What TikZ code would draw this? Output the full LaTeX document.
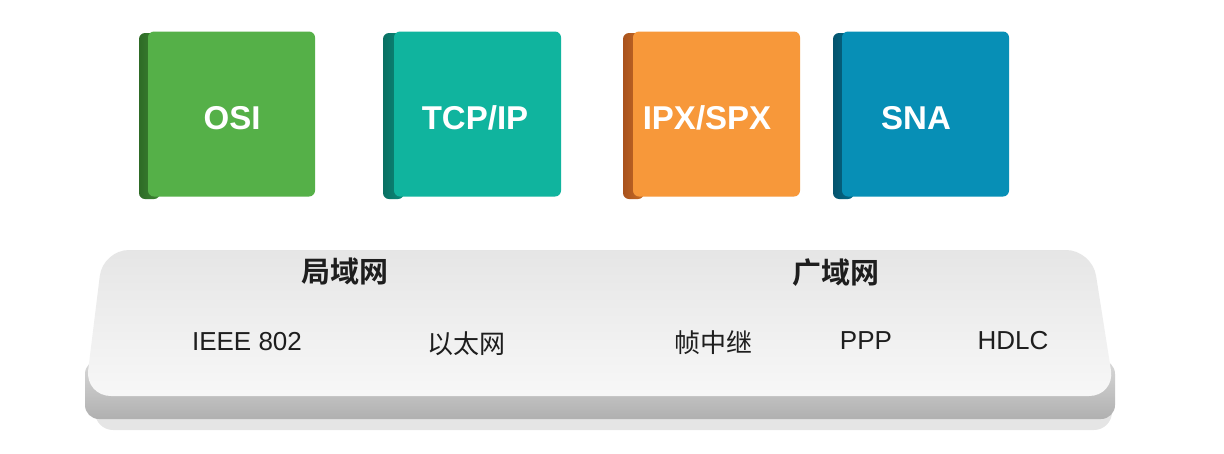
\documentclass[tikz,border=0pt]{standalone}
\usepackage{fontspec}
\setmainfont{Liberation Sans}
\newfontfamily\cjk[BoldFont={Noto Sans CJK SC Bold}]{Noto Sans CJK SC}
\definecolor{osiF}{HTML}{55B048}
\definecolor{osiS}{HTML}{2E6B26}
\definecolor{tcpF}{HTML}{10B49E}
\definecolor{tcpS}{HTML}{097063}
\definecolor{ipxF}{HTML}{F7983A}
\definecolor{ipxS}{HTML}{A9521C}
\definecolor{snaF}{HTML}{078FB6}
\definecolor{snaS}{HTML}{04546E}
\definecolor{txt}{HTML}{1E1E1E}
\begin{document}
\begin{tikzpicture}[x=1pt,y=-1pt,
  face/.style={rounded corners=6pt, minimum width=167pt, minimum height=165pt, inner sep=0pt},
  side/.style={rounded corners=6pt},
  blabel/.style={text=white, font=\bfseries\fontsize{33}{33}\selectfont},
  cjkhead/.style={text=txt, font=\cjk\bfseries\fontsize{29}{29}\selectfont},
  item/.style={text=txt, font=\fontsize{26}{26}\selectfont},
  cjkitem/.style={text=txt, font=\cjk\fontsize{26}{26}\selectfont}]
\useasboundingbox (0,0) rectangle (1224,453);
\fill[white] (0,0) rectangle (1224,453);
% platform shadow
\foreach \o in {0.03,0.03,0.04}{
  \fill[black, opacity=\o, rounded corners=18pt] (95,396) rectangle (1112,430);}
% platform slab
\shade[rounded corners=14pt, top color=gray!30, bottom color=gray!62] (85,360) rectangle (1115,419);
% platform top face
\shade[rounded corners=26pt, top color=black!10, bottom color=black!3]
  (103,250) -- (1092,250) -- (1115,396) -- (85,396) -- cycle;
% boxes: sides
\shade[side, left color=osiS, right color=osiS!60!osiF] (139,33) rectangle (160,199);
\shade[side, left color=tcpS, right color=tcpS!60!tcpF] (383,33) rectangle (404,199);
\shade[side, left color=ipxS, right color=ipxS!60!ipxF] (623,33) rectangle (644,199);
\shade[side, left color=snaS, right color=snaS!60!snaF] (833,33) rectangle (854,199);
% boxes: faces
\node[face, fill=osiF] (osi) at (231.5,114) {};
\node[face, fill=tcpF] (tcp) at (477.5,114) {};
\node[face, fill=ipxF] (ipx) at (716.5,114) {};
\node[face, fill=snaF] (sna) at (925.5,114) {};
\node[blabel] (osiT) at (232,118) {OSI};
\node[blabel] (tcpT) at (475,118) {TCP/IP};
\node[blabel] (ipxT) at (707,118) {IPX/SPX};
\node[blabel] (snaT) at (916,118) {SNA};
% platform texts
\node[cjkhead] (lan) at (345,271) {局域网};
\node[cjkhead] (wan) at (836,273) {广域网};
\node[item] (ieee) at (247,342) {IEEE 802};
\node[cjkitem] (eth) at (466,344) {以太网};
\node[cjkitem] (fr) at (713,343) {帧中继};
\node[item] (ppp) at (866,341) {PPP};
\node[item] (hdlc) at (1013,341) {HDLC};
\end{tikzpicture}
\end{document}
